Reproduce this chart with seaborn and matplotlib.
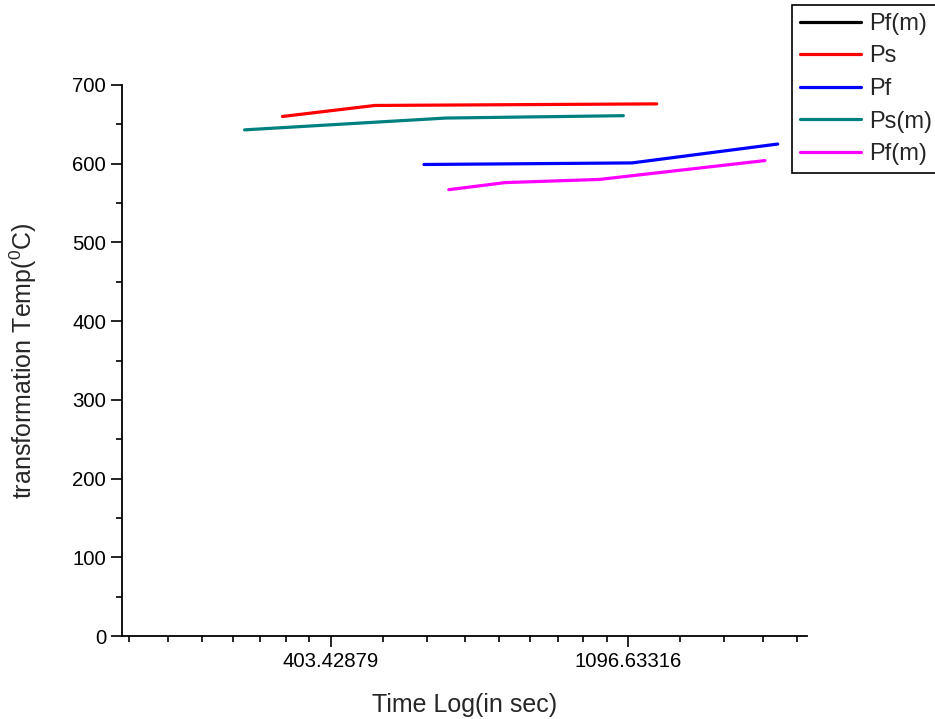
import numpy as np
import seaborn as sns
import matplotlib.pyplot as plt
from matplotlib.ticker import FixedLocator, FuncFormatter
from matplotlib.lines import Line2D

# values (time in s, temperature in deg C)
ps_time = [343, 468, 1207]
ps_temp = [660, 674, 676]
psm_time = [302, 594, 1079]
psm_temp = [643, 658, 661]
pf_time = [552, 1111, 1813]
pf_temp = [599, 601, 625]
pfm_time = [600, 725, 995, 1737]
pfm_temp = [567, 576, 580, 604]

sns.set_style("ticks")
plt.rcParams['font.family'] = ['Liberation Sans', 'DejaVu Sans']
plt.rcParams['mathtext.fontset'] = 'custom'
plt.rcParams['mathtext.rm'] = 'Liberation Sans'

fig = plt.figure(figsize=(9.35, 7.19), dpi=100)
ax = fig.add_axes([0.1305, 0.1154, 0.863 - 0.1305, 0.8818 - 0.1154])

lw = 2.3
sns.lineplot(x=ps_time, y=ps_temp, color='#FF0000', lw=lw, sort=False, ax=ax)
sns.lineplot(x=pf_time, y=pf_temp, color='#0000FF', lw=lw, sort=False, ax=ax)
sns.lineplot(x=psm_time, y=psm_temp, color='#008080', lw=lw, sort=False, ax=ax)
sns.lineplot(x=pfm_time, y=pfm_temp, color='#FF00FF', lw=lw, sort=False, ax=ax)

ax.set_xscale('log', base=np.e)
ax.set_xlim(200, 2000)
ax.set_ylim(0, 700)

# Origin-style log axis: majors at e^n, 8 linear minors in between
majors = [np.e ** 6, np.e ** 7]
minors = []
for n in range(4, 8):
    lo, hi = np.e ** n, np.e ** (n + 1)
    minors += [lo + k * (hi - lo) / 9 for k in range(1, 9)]
ax.xaxis.set_major_locator(FixedLocator(majors))
ax.xaxis.set_minor_locator(FixedLocator(minors))
ax.xaxis.set_major_formatter(FuncFormatter(lambda v, p: f"{v:.5f}"))
ax.xaxis.set_minor_formatter(FuncFormatter(lambda v, p: ""))
ax.yaxis.set_major_locator(FixedLocator(range(0, 701, 100)))
ax.yaxis.set_minor_locator(FixedLocator(range(50, 700, 100)))

ax.tick_params(which='major', direction='out', length=8, width=1.2,
               labelsize=14.7, color='black', labelcolor='black')
ax.tick_params(which='minor', direction='out', length=4, width=1.2,
               color='black')
for s in ['left', 'bottom']:
    ax.spines[s].set_linewidth(1.3)
    ax.spines[s].set_color('black')
sns.despine(ax=ax)

ax.set_xlabel('Time Log(in sec)', fontsize=18, labelpad=16)
ax.set_ylabel(r'transformation Temp($^0$C)', fontsize=18, labelpad=24)

handles = [
    Line2D([], [], color='black', lw=lw),
    Line2D([], [], color='#FF0000', lw=lw),
    Line2D([], [], color='#0000FF', lw=lw),
    Line2D([], [], color='#008080', lw=lw),
    Line2D([], [], color='#FF00FF', lw=lw),
]
labels = ['Pf(m)', 'Ps', 'Pf', 'Ps(m)', 'Pf(m)']
leg = fig.legend(handles, labels, loc='upper left',
                 bbox_to_anchor=(792 / 935, 1 - 5 / 719),
                 fontsize=17, frameon=True, fancybox=False,
                 edgecolor='black', framealpha=1, borderpad=0.33,
                 labelspacing=0.45, handlelength=2.6, handletextpad=0.35,
                 borderaxespad=0)
leg.get_frame().set_linewidth(1.2)

fig.savefig('out.png', dpi=100)
